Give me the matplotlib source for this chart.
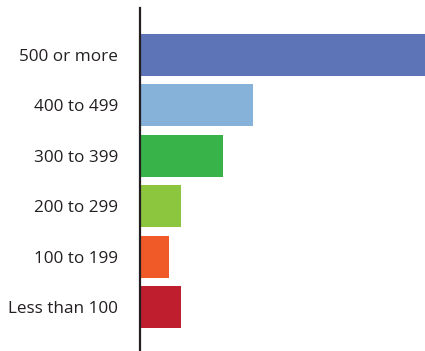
import matplotlib
matplotlib.use("Agg")
import matplotlib.pyplot as plt

# categories top to bottom, bar lengths (arbitrary units)
categories = ["500 or more", "400 to 499", "300 to 399", "200 to 299", "100 to 199", "Less than 100"]
values = [284, 113, 83, 41, 29, 41]
colors = ["#5d74b7", "#86b1d8", "#37b34a", "#8cc63f", "#f05a28", "#be1e2e"]

fig = plt.figure(figsize=(4.25, 3.51), dpi=100)
ax = fig.add_axes([140 / 425, 0, 1 - 140 / 425, 343 / 351])

pos = list(range(len(categories)))
ax.barh(pos, values, height=0.833, color=colors, left=0)

ax.set_xlim(0, 284)
ax.set_ylim(5.873, -0.933)

ax.set_yticks(pos)
ax.set_yticklabels(categories, fontsize=12.3, color="#231f20", family="Open Sans")
ax.tick_params(axis="y", length=0, pad=16)
ax.set_xticks([])

for s in ["top", "right", "bottom"]:
    ax.spines[s].set_visible(False)
ax.spines["left"].set_linewidth(1.6)
ax.spines["left"].set_color("#231f20")

fig.savefig("out.png", dpi=100)
